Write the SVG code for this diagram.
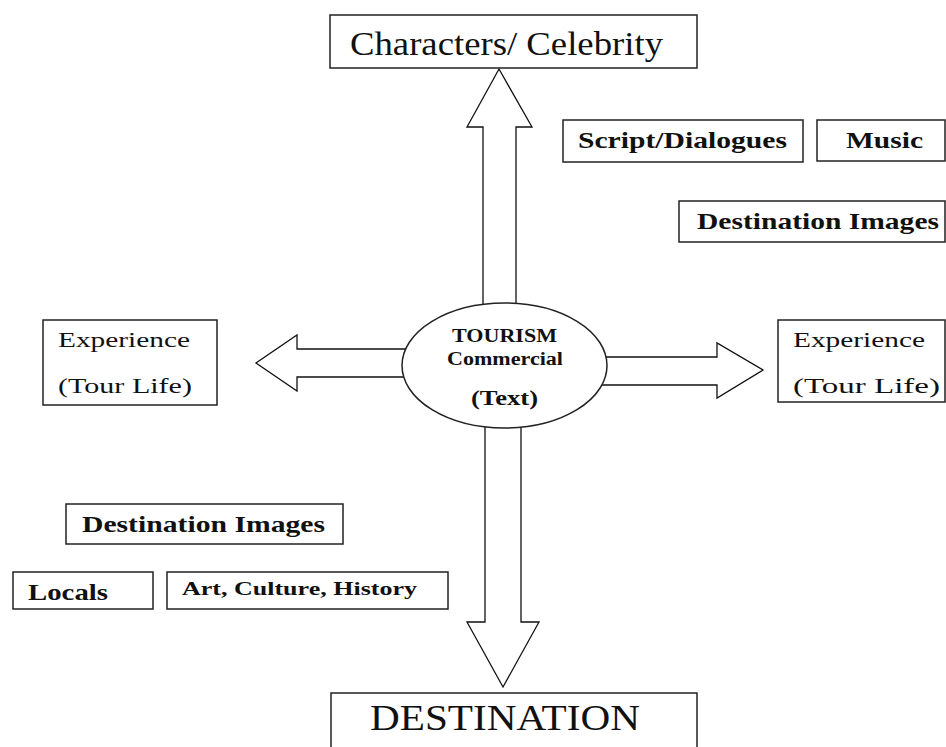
<svg xmlns="http://www.w3.org/2000/svg" width="946" height="747" viewBox="0 0 946 747">
  <style>
    .box { fill: #ffffff; stroke: #222222; stroke-width: 1.5; }
    .arrow { fill: #ffffff; stroke: #111111; stroke-width: 1.3; stroke-linejoin: miter; }
    .serif { font-family: "Liberation Serif", "Times New Roman", serif; fill: #111111; }
    .bold { font-weight: bold; }
  </style>
  <rect width="946" height="747" fill="#ffffff"/>

  <!-- block arrows out of the central ellipse -->
  <g id="connectors">
    <polygon class="arrow" points="483,310 483,127 467,127 499,69 532,127 516,127 516,310"/>
    <polygon class="arrow" points="485,420 485,622 467,622 503,687 539,622 521,622 521,420"/>
    <polygon class="arrow" points="600,357 717,357 717,343 763,370 717,398 717,385 600,385"/>
    <polygon class="arrow" points="410,349 297,349 297,335 256,363 297,391 297,377 410,377"/>
  </g>

  <g id="center">
    <ellipse class="box" cx="504.5" cy="365.5" rx="102.5" ry="62.5"/>
    <text class="serif bold" x="452" y="342" font-size="18" textLength="105" lengthAdjust="spacingAndGlyphs">TOURISM</text>
    <text class="serif bold" x="447" y="365" font-size="18" textLength="116" lengthAdjust="spacingAndGlyphs">Commercial</text>
    <text class="serif bold" x="471" y="405" font-size="21" textLength="67" lengthAdjust="spacingAndGlyphs">(Text)</text>
  </g>

  <g id="characters">
    <rect class="box" x="330" y="15" width="367" height="53"/>
    <text class="serif" x="350" y="55" font-size="33" textLength="313" lengthAdjust="spacingAndGlyphs">Characters/ Celebrity</text>
  </g>

  <g id="destination">
    <rect class="box" x="331" y="693" width="366" height="70"/>
    <text class="serif" x="370" y="730" font-size="35" textLength="270" lengthAdjust="spacingAndGlyphs">DESTINATION</text>
  </g>

  <g id="experience-left">
    <rect class="box" x="43" y="320" width="174" height="85"/>
    <text class="serif" x="58" y="347" font-size="21" textLength="132" lengthAdjust="spacingAndGlyphs">Experience</text>
    <text class="serif" x="58" y="393" font-size="21" textLength="134" lengthAdjust="spacingAndGlyphs">(Tour Life)</text>
  </g>

  <g id="experience-right">
    <rect class="box" x="778" y="320" width="167" height="82"/>
    <text class="serif" x="793" y="347" font-size="21" textLength="132" lengthAdjust="spacingAndGlyphs">Experience</text>
    <text class="serif" x="793" y="393" font-size="21" textLength="147" lengthAdjust="spacingAndGlyphs">(Tour Life)</text>
  </g>

  <g id="script-dialogues">
    <rect class="box" x="563" y="120" width="240" height="42"/>
    <text class="serif bold" x="578" y="148" font-size="23" textLength="209" lengthAdjust="spacingAndGlyphs">Script/Dialogues</text>
  </g>

  <g id="music">
    <rect class="box" x="817" y="120" width="128" height="41"/>
    <text class="serif bold" x="846" y="148" font-size="23" textLength="77" lengthAdjust="spacingAndGlyphs">Music</text>
  </g>

  <g id="destination-images-right">
    <rect class="box" x="679" y="201" width="266" height="41"/>
    <text class="serif bold" x="697" y="229" font-size="23" textLength="242" lengthAdjust="spacingAndGlyphs">Destination Images</text>
  </g>

  <g id="destination-images-left">
    <rect class="box" x="66" y="504" width="277" height="40"/>
    <text class="serif bold" x="82" y="532" font-size="23" textLength="243" lengthAdjust="spacingAndGlyphs">Destination Images</text>
  </g>

  <g id="locals">
    <rect class="box" x="13" y="572" width="140" height="37"/>
    <text class="serif bold" x="28" y="600" font-size="23" textLength="80" lengthAdjust="spacingAndGlyphs">Locals</text>
  </g>

  <g id="art-culture-history">
    <rect class="box" x="167" y="572" width="281" height="37"/>
    <text class="serif bold" x="182" y="595" font-size="19" textLength="235" lengthAdjust="spacingAndGlyphs">Art, Culture, History</text>
  </g>
</svg>
